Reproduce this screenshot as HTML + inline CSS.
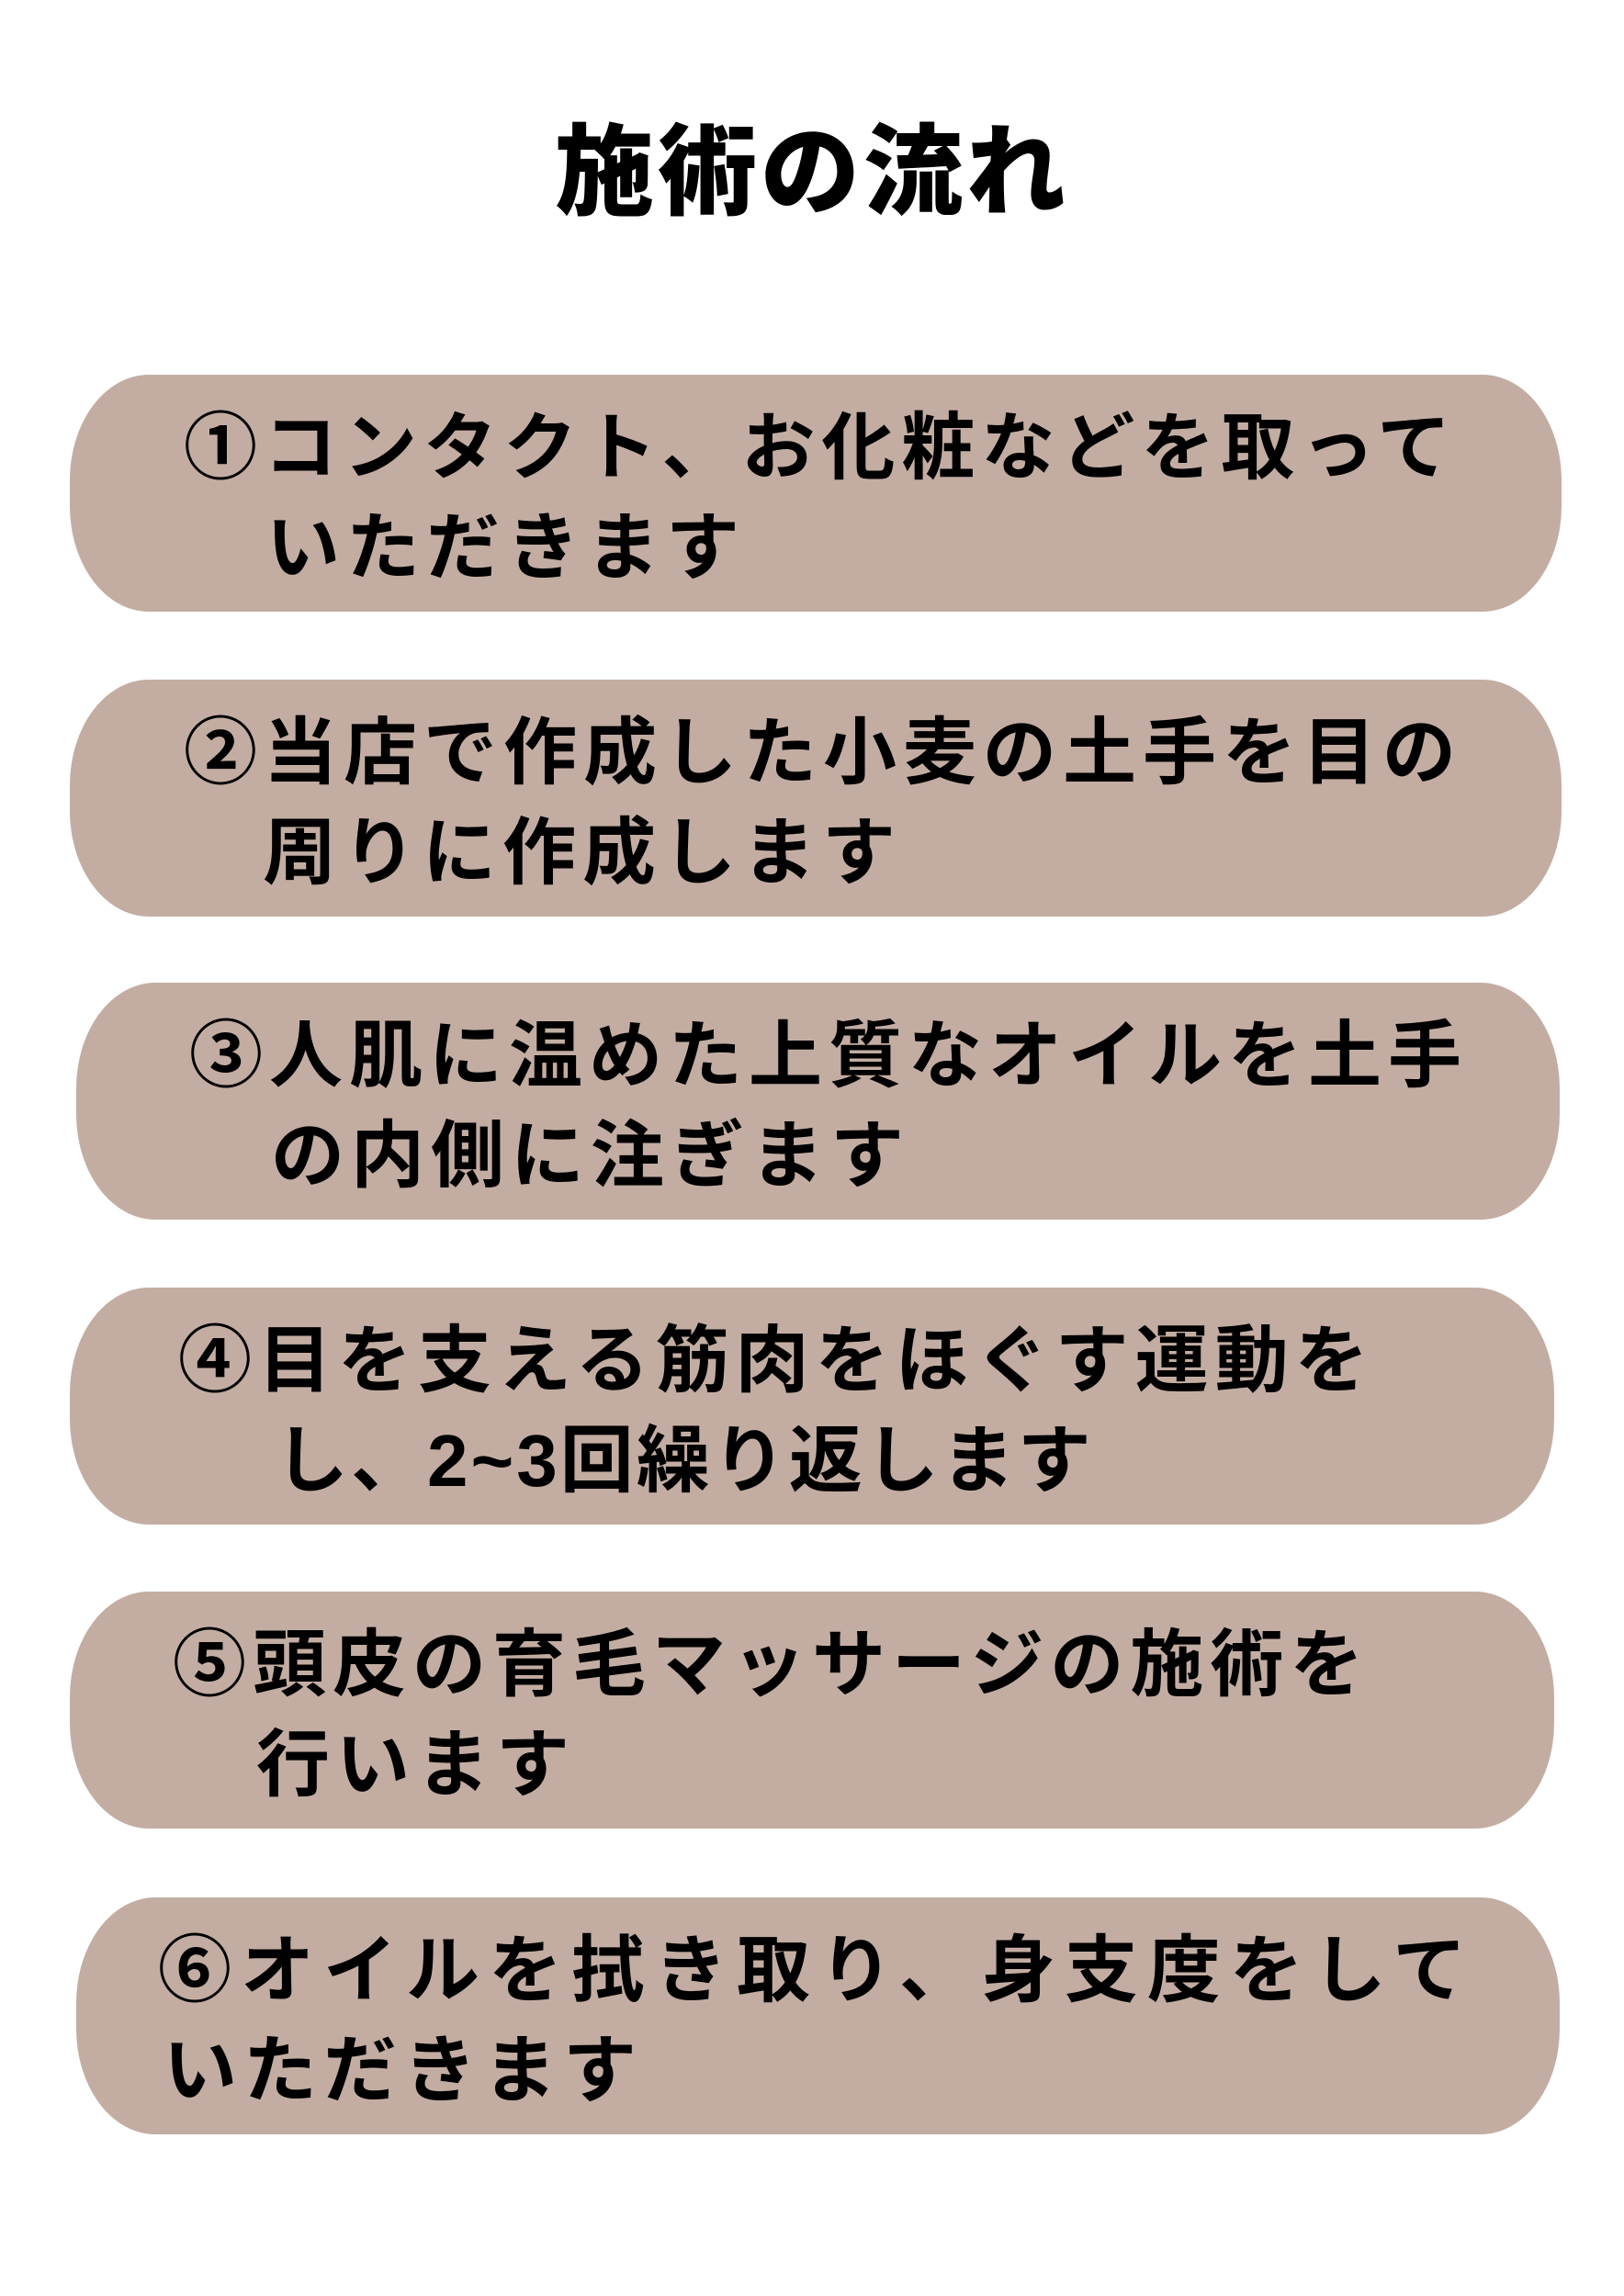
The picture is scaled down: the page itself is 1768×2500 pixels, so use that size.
<!DOCTYPE html>
<html><head><meta charset="utf-8"><style>
body{margin:0;width:1768px;height:2500px;background:#fff;position:relative;overflow:hidden;font-family:"Liberation Sans","Noto Sans CJK JP",sans-serif;font-weight:700;color:#000}
.b{position:absolute;background:#c3ada2;border-radius:86px/115px;height:258px}
.t{position:absolute;white-space:nowrap;font-size:80px;line-height:108px;height:108px;letter-spacing:7px}
.h{position:absolute;left:0;width:1768px;text-align:center;top:128px;font-size:108px;line-height:120px;letter-spacing:4px;font-weight:900}
</style></head><body>
<div class="h">施術の流れ</div>
<div class="b" style="left:76px;width:1624px;top:408px"></div>
<div class="t" style="left:200px;top:434px">①コンタクト、お化粧などを取って</div>
<div class="t" style="left:290px;top:543px">いただきます</div>

<div class="b" style="left:76px;width:1624px;top:740px"></div>
<div class="t" style="left:200px;top:766px">②当店で作成した小麦の土手を目の</div>
<div class="t" style="left:286px;top:875px">周りに作成します</div>

<div class="b" style="left:83px;width:1615px;top:1070px"></div>
<div class="t" style="left:206px;top:1096px">③人肌に温めた上質なオイルを土手</div>
<div class="t" style="left:295px;top:1205px">の内側に注ぎます</div>

<div class="b" style="left:76px;width:1616px;top:1402px"></div>
<div class="t" style="left:194px;top:1428px">④目を支える筋肉をほぐす運動を</div>
<div class="t" style="left:299px;top:1537px;letter-spacing:3px">し、2~3回繰り返します</div>

<div class="b" style="left:76px;width:1616px;top:1733px"></div>
<div class="t" style="left:188px;top:1759px">⑤頭皮の育毛マッサージの施術を</div>
<div class="t" style="left:279px;top:1868px">行います</div>

<div class="b" style="left:83px;width:1615px;top:2066px"></div>
<div class="t" style="left:172px;top:2092px;letter-spacing:10px">⑥オイルを拭き取り、身支度をして</div>
<div class="t" style="left:178px;top:2201px">いただきます</div>
</body></html>
